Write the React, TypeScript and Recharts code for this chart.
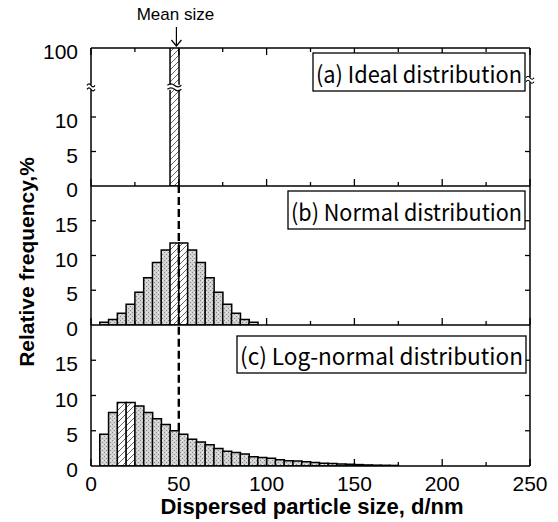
import React from 'react'
import { BarChart, Bar, XAxis, YAxis, Cell, ReferenceLine, ReferenceDot } from 'recharts'

// lower edge of each 5 nm size bin
const binStarts = [
  0, 5, 10, 15, 20, 25, 30, 35, 40, 45, 50, 55, 60, 65, 70, 75, 80, 85, 90, 95,
  100, 105, 110, 115, 120, 125, 130, 135, 140, 145, 150, 155, 160, 165, 170, 175,
  180, 185, 190, 195, 200, 205, 210, 215, 220, 225, 230, 235, 240, 245,
]

const idealBins = [45]
const idealFreq = [100]

const normalBins = [5, 10, 15, 20, 25, 30, 35, 40, 45, 50, 55, 60, 65, 70, 75, 80, 85, 90]
const normalFreq = [0.4, 0.8, 1.7, 3.0, 4.7, 6.8, 9.0, 10.8, 11.8, 11.8, 10.8, 9.0, 6.8, 4.7, 3.0, 1.7, 0.8, 0.4]

const logNormalBins = [
  5, 10, 15, 20, 25, 30, 35, 40, 45, 50, 55, 60, 65, 70, 75, 80, 85, 90, 95, 100,
  105, 110, 115, 120, 125, 130, 135, 140, 145, 150, 155, 160, 165, 170,
]
const logNormalFreq = [
  4.5, 7.6, 9.0, 9.0, 8.5, 7.6, 6.7, 5.9, 5.0, 4.5, 3.8, 3.4, 3.0, 2.5, 2.1, 1.9, 1.7, 1.3, 1.2, 1.1,
  0.9, 0.75, 0.7, 0.6, 0.5, 0.4, 0.35, 0.3, 0.25, 0.2, 0.15, 0.12, 0.1, 0.08,
]

// hatched bins
const idealMarked = [45]
const normalMarked = [45, 50]
const logNormalMarked = [15, 20]
const meanSize = 50

const xTicks = [0, 25, 50, 75, 100, 125, 150, 175, 200, 225, 250]
const idealYTicks = [0, 5, 10, 20]
const idealYLabels = ['0', '5', '10', '100']
const distYTicks = [0, 5, 10, 15]
const distYLabels = ['0', '5', '10', '15']

function pick(bins: number[], values: number[], b: number) {
  const i = bins.indexOf(b)
  return i < 0 ? null : values[i]
}

const rows = binStarts.map((b) => ({
  bin: b,
  ideal: pick(idealBins, idealFreq, b),
  normal: pick(normalBins, normalFreq, b),
  logNormal: pick(logNormalBins, logNormalFreq, b),
}))

const W = 558
const H = 522
const LEFT = 91
const RIGHT = 530
const FONT = '"Liberation Sans", Arial, sans-serif'
const BOXFONT = '"Noto Sans CJK JP", "Noto Sans", sans-serif'
const axisStyle = { stroke: '#000', strokeWidth: 1.5 }

function XTick({ x, y, payload, showLabel, down }: any) {
  const major = payload.value % 50 === 0
  const len = major ? 7 : 4
  return (
    <g>
      <line x1={x} x2={x} y1={y} y2={down ? y + len : y - len} stroke="#000" strokeWidth={1.3} />
      {showLabel && major && (
        <text x={x} y={y + 25} textAnchor="middle" fontSize={21} fontFamily={FONT} fill="#000">
          {payload.value}
        </text>
      )}
    </g>
  )
}

function YTickLeft({ x, y, payload, ticks, labels }: any) {
  const i = ticks.indexOf(payload.value)
  return (
    <g>
      {payload.value > 0 && payload.value < 20 && (
        <line x1={x} x2={x + 5} y1={y} y2={y} stroke="#000" strokeWidth={1.3} />
      )}
      <text x={x - 13} y={y + 11} textAnchor="end" fontSize={21} fontFamily={FONT} fill="#000">
        {labels[i]}
      </text>
    </g>
  )
}

function YTickRight({ x, y, payload }: any) {
  if (payload.value <= 0 || payload.value >= 20) return <g />
  return <line x1={x} x2={x - 5} y1={y} y2={y} stroke="#000" strokeWidth={1.3} />
}

// small "≈" marks for the broken axis
function AxisBreak({ cx, cy, w = 8 }: any) {
  const h = w / 2
  return (
    <g>
      <rect x={cx - h} y={cy - 2.5} width={w} height={5} fill="#fff" />
      <path
        d={`M${cx - h},${cy - 2} q${h / 2},-3 ${h},0 t${h},0 M${cx - h},${cy + 2} q${h / 2},-3 ${h},0 t${h},0`}
        fill="none"
        stroke="#000"
        strokeWidth={1.2}
      />
    </g>
  )
}

function MeanArrow({ cx, cy }: any) {
  return (
    <g>
      <text x={cx + 1} y={cy - 28} textAnchor="middle" fontSize={17} fontFamily={FONT} fill="#000">
        Mean size
      </text>
      <line x1={cx + 2} x2={cx + 2} y1={cy - 21} y2={cy - 2} stroke="#000" strokeWidth={1.2} />
      <path d={`M${cx - 3},${cy - 8} L${cx + 2},${cy - 2} L${cx + 7},${cy - 8}`} fill="none" stroke="#000" strokeWidth={1.2} />
    </g>
  )
}

interface PanelProps {
  id: string
  top: number
  bottom: number
  dataKey: string
  marked: number[]
  yTicks: number[]
  yLabels: string[]
  xLabels?: boolean
  topAxis?: boolean
  children?: React.ReactNode
}

function Panel({ id, top, bottom, dataKey, marked, yTicks, yLabels, xLabels, topAxis, children }: PanelProps) {
  // axes are 1px wide/high, margins account for that
  return (
    <div style={{ position: 'absolute', left: 0, top: 0 }}>
      <BarChart
        width={W}
        height={H}
        data={rows}
        barCategoryGap={0}
        barGap={0}
        margin={{ top: top - (topAxis ? 1 : 0), bottom: H - bottom - 1, left: LEFT - 1, right: W - RIGHT - 1 }}
      >
        <defs>
          <pattern id={'hatch' + id} patternUnits="userSpaceOnUse" width={6} height={6}>
            <rect width={6} height={6} fill="#fff" />
            <path d="M-1,1 L1,-1 M0,6 L6,0 M5,7 L7,5" stroke="#555" strokeWidth={0.9} />
          </pattern>
          <pattern id={'dots' + id} patternUnits="userSpaceOnUse" width={4} height={4}>
            <rect width={4} height={4} fill="#d2d2d2" />
            <rect x={0} y={0} width={1} height={1} fill="#8c8c8c" />
            <rect x={2} y={2} width={1} height={1} fill="#8c8c8c" />
            <rect x={2} y={0} width={1} height={1} fill="#eeeeee" />
          </pattern>
        </defs>
        <XAxis xAxisId="cat" dataKey="bin" type="category" hide height={0} />
        <XAxis
          xAxisId="num"
          dataKey="bin"
          type="number"
          domain={[0, 250]}
          ticks={xTicks}
          interval={0}
          allowDataOverflow
          height={1}
          tickSize={0}
          tickMargin={0}
          tickLine={false}
          axisLine={axisStyle}
          tick={(p: any) => <XTick {...p} showLabel={xLabels} />}
        />
        {topAxis && (
          <XAxis
            xAxisId="top"
            dataKey="bin"
            orientation="top"
            type="number"
            domain={[0, 250]}
            ticks={xTicks}
            interval={0}
            allowDataOverflow
            height={1}
            tickSize={0}
            tickMargin={0}
            tickLine={false}
            axisLine={axisStyle}
            tick={(p: any) => <XTick {...p} down />}
          />
        )}
        <YAxis
          yAxisId="l"
          domain={[0, 20]}
          ticks={yTicks}
          interval={0}
          allowDataOverflow
          width={1}
          tickSize={0}
          tickMargin={0}
          tickLine={false}
          axisLine={axisStyle}
          tick={(p: any) => <YTickLeft {...p} ticks={yTicks} labels={yLabels} />}
        />
        <YAxis
          yAxisId="r"
          orientation="right"
          domain={[0, 20]}
          ticks={yTicks}
          interval={0}
          allowDataOverflow
          width={1}
          tickSize={0}
          tickMargin={0}
          tickLine={false}
          axisLine={axisStyle}
          tick={(p: any) => <YTickRight {...p} />}
        />
        <Bar xAxisId="cat" yAxisId="l" dataKey={dataKey} stroke="#000" strokeWidth={1.5} isAnimationActive={false}>
          {rows.map((r) => (
            <Cell key={r.bin} fill={marked.includes(r.bin) ? `url(#hatch${id})` : `url(#dots${id})`} />
          ))}
        </Bar>
        {children}
      </BarChart>
    </div>
  )
}

const dash = { stroke: '#000', strokeWidth: 2.4, strokeDasharray: '8 4' }

export default function App() {
  const meanBarTop = pick(logNormalBins, logNormalFreq, meanSize - 5) ?? 0
  return (
    <div style={{ position: 'absolute', left: 0, top: 0, width: W, height: H, background: '#fff' }}>
      <Panel
        id="a"
        top={48}
        bottom={186}
        dataKey="ideal"
        marked={idealMarked}
        yTicks={idealYTicks}
        yLabels={idealYLabels}
        topAxis
      >
        <ReferenceDot xAxisId="num" yAxisId="l" x={0} y={14.3} r={0} shape={(p: any) => <AxisBreak {...p} />} />
        <ReferenceDot xAxisId="num" yAxisId="l" x={250} y={15.4} r={0} shape={(p: any) => <AxisBreak {...p} />} />
        <ReferenceDot
          xAxisId="num"
          yAxisId="l"
          x={idealBins[0] + 2.5}
          y={14.3}
          r={0}
          shape={(p: any) => <AxisBreak {...p} w={14} />}
        />
        <ReferenceDot
          xAxisId="num"
          yAxisId="l"
          x={idealBins[0] + 2.5}
          y={20}
          r={0}
          shape={(p: any) => <MeanArrow {...p} />}
        />
      </Panel>
      <Panel
        id="b"
        top={186}
        bottom={325}
        dataKey="normal"
        marked={normalMarked}
        yTicks={distYTicks}
        yLabels={distYLabels}
      >
        <ReferenceLine xAxisId="num" yAxisId="l" x={meanSize} {...dash} />
      </Panel>
      <Panel
        id="c"
        top={325}
        bottom={466}
        dataKey="logNormal"
        marked={logNormalMarked}
        yTicks={distYTicks}
        yLabels={distYLabels}
        xLabels
      >
        <ReferenceLine
          xAxisId="num"
          yAxisId="l"
          segment={[
            { x: meanSize, y: meanBarTop },
            { x: meanSize, y: 20 },
          ]}
          {...dash}
        />
      </Panel>
      <svg width={W} height={H} style={{ position: 'absolute', left: 0, top: 0 }}>
        <rect x={313} y={53} width={212} height={38} fill="#fff" stroke="#000" strokeWidth={1.3} />
        <text x={316} y={83} fontSize={23} fontFamily={BOXFONT} textLength={206} lengthAdjust="spacingAndGlyphs">
          (a) Ideal distribution
        </text>
        <rect x={288} y={191} width={237} height={38} fill="#fff" stroke="#000" strokeWidth={1.3} />
        <text x={291} y={221} fontSize={23} fontFamily={BOXFONT} textLength={231} lengthAdjust="spacingAndGlyphs">
          (b) Normal distribution
        </text>
        <rect x={237} y={336} width={289} height={37} fill="#fff" stroke="#000" strokeWidth={1.3} />
        <text x={240} y={365} fontSize={23} fontFamily={BOXFONT} textLength={283} lengthAdjust="spacingAndGlyphs">
          (c) Log-normal distribution
        </text>
        <text x={312} y={514} textAnchor="middle" fontSize={22} fontWeight="bold" fontFamily={FONT}>
          Dispersed particle size, d/nm
        </text>
        <text
          x={34}
          y={262}
          textAnchor="middle"
          fontSize={21}
          fontWeight="bold"
          fontFamily={FONT}
          transform="rotate(-90 34 262)"
        >
          Relative frequency,%
        </text>
      </svg>
    </div>
  )
}
